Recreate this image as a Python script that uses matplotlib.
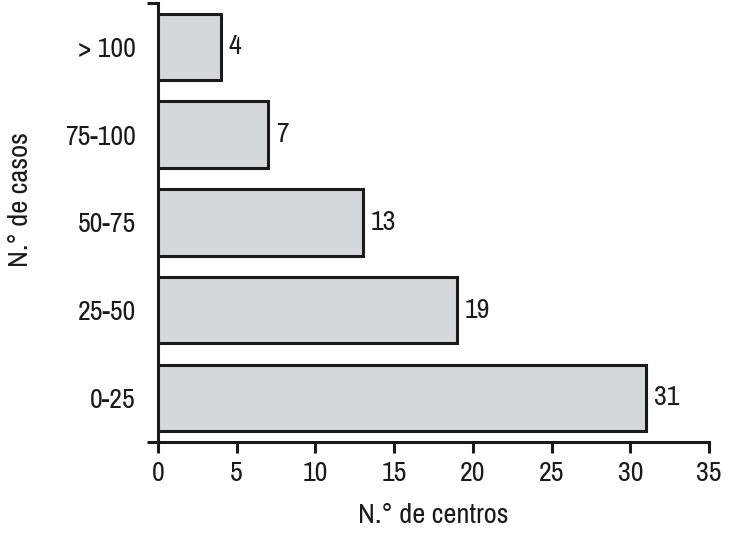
import matplotlib
matplotlib.use('Agg')
import matplotlib.pyplot as plt
from matplotlib import font_manager

# --- Data ---
categorias = ['0-25', '25-50', '50-75', '75-100', '> 100']
centros = [31, 19, 13, 7, 4]
xticks = [0, 5, 10, 15, 20, 25, 30, 35]

# look for a narrow sans if one is around, else Liberation Sans
installed = sorted({f.name for f in font_manager.fontManager.ttflist})
narrow = [n for n in installed if 'Narrow' in n or 'Condensed' in n]
if narrow:
    plt.rcParams['font.family'] = [narrow[0], 'DejaVu Sans']
    fs_tick, fs_lab = 20, 20.5
else:
    plt.rcParams['font.family'] = ['Liberation Sans', 'DejaVu Sans']
    fs_tick, fs_lab = 17, 17

fig = plt.figure(figsize=(7.30, 5.36), dpi=100)
ax = fig.add_axes([0.2164, 0.1759, 0.9712 - 0.2164, 0.9944 - 0.1759])

# --- Bars ---
pos = range(len(categorias))
ax.barh(pos, centros, height=0.76, color='#d5d7d9', edgecolor='#1a1a1a', linewidth=2.2)
for y, v in zip(pos, centros):
    ax.text(v + 0.5, y, str(v), va='center', ha='left', fontsize=fs_tick, color='#1a1a1a')

ax.set_xlim(0, 35)
ax.set_ylim(-0.5, 4.5)
ax.set_xticks(xticks)
ax.set_yticks(list(pos))
ax.set_yticklabels(categorias)
# end ticks on the y axis only
ax.set_yticks([-0.5, 4.5], minor=True)

for s in ['top', 'right']:
    ax.spines[s].set_visible(False)
for s in ['left', 'bottom']:
    ax.spines[s].set_linewidth(2.2)
    ax.spines[s].set_color('#1a1a1a')

ax.tick_params(axis='x', direction='out', length=8, width=2.2, pad=6, labelsize=fs_tick, colors='#1a1a1a')
ax.tick_params(axis='y', which='major', length=0, pad=16, labelsize=fs_tick, colors='#1a1a1a')
ax.tick_params(axis='y', which='minor', direction='out', length=8, width=2.2, color='#1a1a1a')

ax.set_xlabel('N.° de centros', fontsize=fs_lab, labelpad=12, color='#1a1a1a')
fig.text(21 / 730, 1 - 200 / 536, 'N.° de casos', rotation=90, ha='center', va='center',
         fontsize=fs_lab, color='#1a1a1a')

fig.savefig('out.png', dpi=100)
